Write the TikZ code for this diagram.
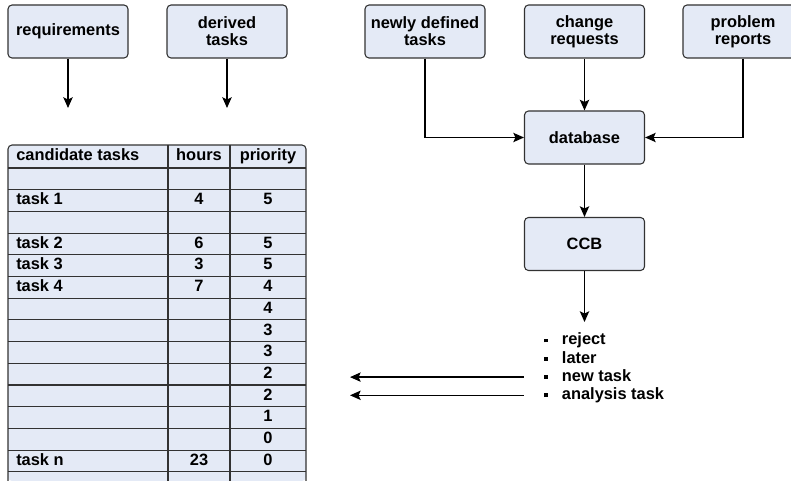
\documentclass[tikz,border=0pt]{standalone}
\usepackage{fontspec}
\setmainfont{Liberation Sans}
\usetikzlibrary{arrows.meta,positioning}

\definecolor{fondboite}{RGB}{228,234,246}
\definecolor{bord}{RGB}{50,50,50}

\newcommand{\puce}{\makebox[14pt][l]{\hspace{0.6pt}\raisebox{1.9pt}{\rule{2.9pt}{2.9pt}}}}

\tikzset{
  texte/.style={font=\fontsize{12.3}{12.8}\selectfont\bfseries, text=black},
  boite/.style={texte, draw=bord, fill=fondboite, line width=0.8pt, rounded corners=3pt,
    minimum width=90pt, minimum height=39.75pt, inner sep=0pt, align=center},
  cellule/.style={texte, inner sep=0pt, text height=9pt, text depth=2.6pt},
  fleche/.style={->, >={Stealth[length=8pt,width=7pt,inset=1.6pt]}, line width=0.95pt},
}

\begin{document}
\begin{tikzpicture}[x=0.75pt, y=-0.75pt]
            
            % Cadre de l'image (coordonnées en pixels)
            \useasboundingbox (0,0) rectangle (791,481);
            
            % ==============================================
            % 1. SOURCES DES TÂCHES
            % ==============================================
            \node[boite] (req) at (68,31.5) {requirements};
            \node[boite] (der) at (227,31.5) {derived\\tasks};
            \node[boite] (new) at (425,31.5) {newly defined\\tasks};
            \node[boite] (chg) at (584.5,31.5) {change\\requests};
            \node[boite] (pb) at (743,31.5) {problem\\reports};
            
            \coordinate (reqbas) at (68,108);
            \coordinate (derbas) at (227,108);
            \draw[fleche] (req) -- (reqbas);
            \draw[fleche] (der) -- (derbas);
            
            % ==============================================
            % 2. BASE DE DONNÉES ET CCB
            % ==============================================
            \node[boite] (db) at (584.5,137.5) {database};
            \node[boite] (ccb) at (584.5,244) {CCB};
            
            \draw[fleche] (new.south) |- (db.west);
            \draw[fleche] (chg) -- (db);
            \draw[fleche] (pb.south) |- (db.east);
            \draw[fleche] (db) -- (ccb);
            
            \coordinate (decision) at (584.5,322);
            \draw[fleche] (ccb) -- (decision);
            
            % Décisions possibles du CCB
            \foreach \nom/\txt [count=\k] in {rej/reject, tard/later, nt/new task, an/analysis task} {
                \node[cellule, anchor=west] (\nom) at (543,322.5+\k*18.2) {\puce\txt};
            }
            
            % Retour vers la liste des tâches
            \coordinate (gauche) at (350,0);
            \draw[fleche] (nt.west -| ccb.west) -- (nt.west -| gauche);
            \draw[fleche] (an.west -| ccb.west) -- (an.west -| gauche);
            
            % ==============================================
            % 3. TABLEAU DES TÂCHES CANDIDATES
            % ==============================================
            \def\xg{8}      % bord gauche
            \def\xa{168}    % colonne hours
            \def\xb{230}    % colonne priority
            \def\xd{306}    % bord droit
            \def\ytop{145}  % haut du tableau
            \def\yent{168}  % bas de l'en-tête
            \def\hrang{21.7} % hauteur d'une ligne
            
            \fill[fondboite, rounded corners=3pt] (\xg,481) -- (\xg,\ytop) -- (\xd,\ytop) -- (\xd,481) -- cycle;
            \draw[bord, line width=0.8pt, rounded corners=3pt] (\xg,481) -- (\xg,\ytop) -- (\xd,\ytop) -- (\xd,481);
            \draw[bord, line width=0.8pt] (\xa,\ytop) -- (\xa,481);
            \draw[bord, line width=0.8pt] (\xb,\ytop) -- (\xb,481);
            \draw[bord, line width=0.8pt] (\xg,\yent) -- (\xd,\yent);
            \foreach \i in {1,...,14} {
                \draw[bord, line width=0.8pt] (\xg,\yent+\i*\hrang) -- (\xd,\yent+\i*\hrang);
            }
            
            % En-tête
            \node[cellule, anchor=west] (tete) at (16,156.5) {candidate tasks};
            \node[cellule] (teteh) at (199,156.5) {hours};
            \node[cellule] (tetep) at (268,156.5) {priority};
            
            % Contenu des lignes
            \foreach \nom/\h/\p [count=\i] in {{}/{}/{}, task 1/4/5, {}/{}/{}, task 2/6/5, task 3/3/5,
                task 4/7/4, {}/{}/4, {}/{}/3, {}/{}/3, {}/{}/2, {}/{}/2, {}/{}/1, {}/{}/0, task n/23/0} {
                \pgfmathsetmacro{\y}{\yent+(\i-0.5)*\hrang}
                \node[cellule, anchor=west] (nom\i) at (16,\y) {\nom};
                \node[cellule] (h\i) at (199,\y) {\h};
                \node[cellule] (p\i) at (268,\y) {\p};
            }
            
        \end{tikzpicture}
\end{document}
